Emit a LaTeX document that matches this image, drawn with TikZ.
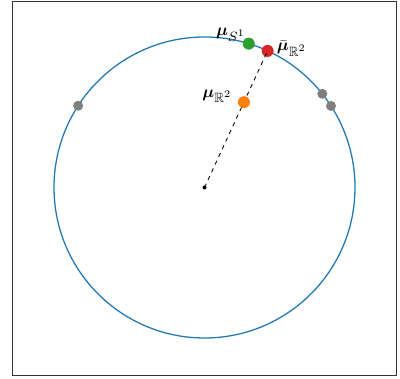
\documentclass[tikz,border=0pt]{standalone}
\usepackage{amsmath,amssymb,bm,graphicx}
\usetikzlibrary{positioning}
\definecolor{tabblue}{HTML}{1F77B4}
\definecolor{taborange}{HTML}{FF7F0E}
\definecolor{tabgreen}{HTML}{2CA02C}
\definecolor{tabred}{HTML}{D62728}
\definecolor{tabgray}{HTML}{7F7F7F}
\newcommand{\bigsub}[1]{\scalebox{1.2}{$\scriptstyle #1$}}
\begin{document}
\begin{tikzpicture}[every node/.style={font=\large},
	dot/.style={circle, inner sep=0pt, minimum size=0.3cm},
	smalldot/.style={circle, inner sep=0pt, minimum size=0.25cm, fill=tabgray},
	lbl/.style={inner sep=0pt}]
	\useasboundingbox (-5.1125,-4.7625) rectangle (4.8875,4.6875);
	\def\R{3.7625}
	% axes frame
	\draw[black!80, line width=0.6pt] (-4.8125,-4.6875) rectangle (4.8,4.6625);
	% unit circle
	\draw[tabblue, line width=0.9pt] (0,0) circle (\R);
	\coordinate (o) at (0,0);
	\node[smalldot] (g1) at (147.1:\R) {};
	\node[smalldot] (g2) at (38.5:\R) {};
	\node[smalldot] (g3) at (32.8:\R) {};
	\node[dot, fill=tabred] (mubar) at (65.2:\R) {};
	\draw[dashed, line width=0.6pt] (o) -- (mubar.center);
	\fill (o) circle (0.05);
	\node[dot, fill=taborange] (muR) at (65.2:2.35) {};
	\node[dot, fill=tabgreen] (muS) at (72.9:\R) {};
	% labels
	\node[lbl, anchor=base east, xshift=-0.08cm, yshift=0.2cm] (labS) at (muS.center) {$\bm{\mu}_{\bigsub{S^1}}$};
	\node[lbl, right=0.07cm of mubar, yshift=0.06cm] (labbar) {$\bar{\bm{\mu}}_{\bigsub{\mathbb{R}^2}}$};
	\node[lbl, left=0.14cm of muR, yshift=0.15cm] (labR) {$\bm{\mu}_{\bigsub{\mathbb{R}^2}}$};
\end{tikzpicture}
\end{document}
